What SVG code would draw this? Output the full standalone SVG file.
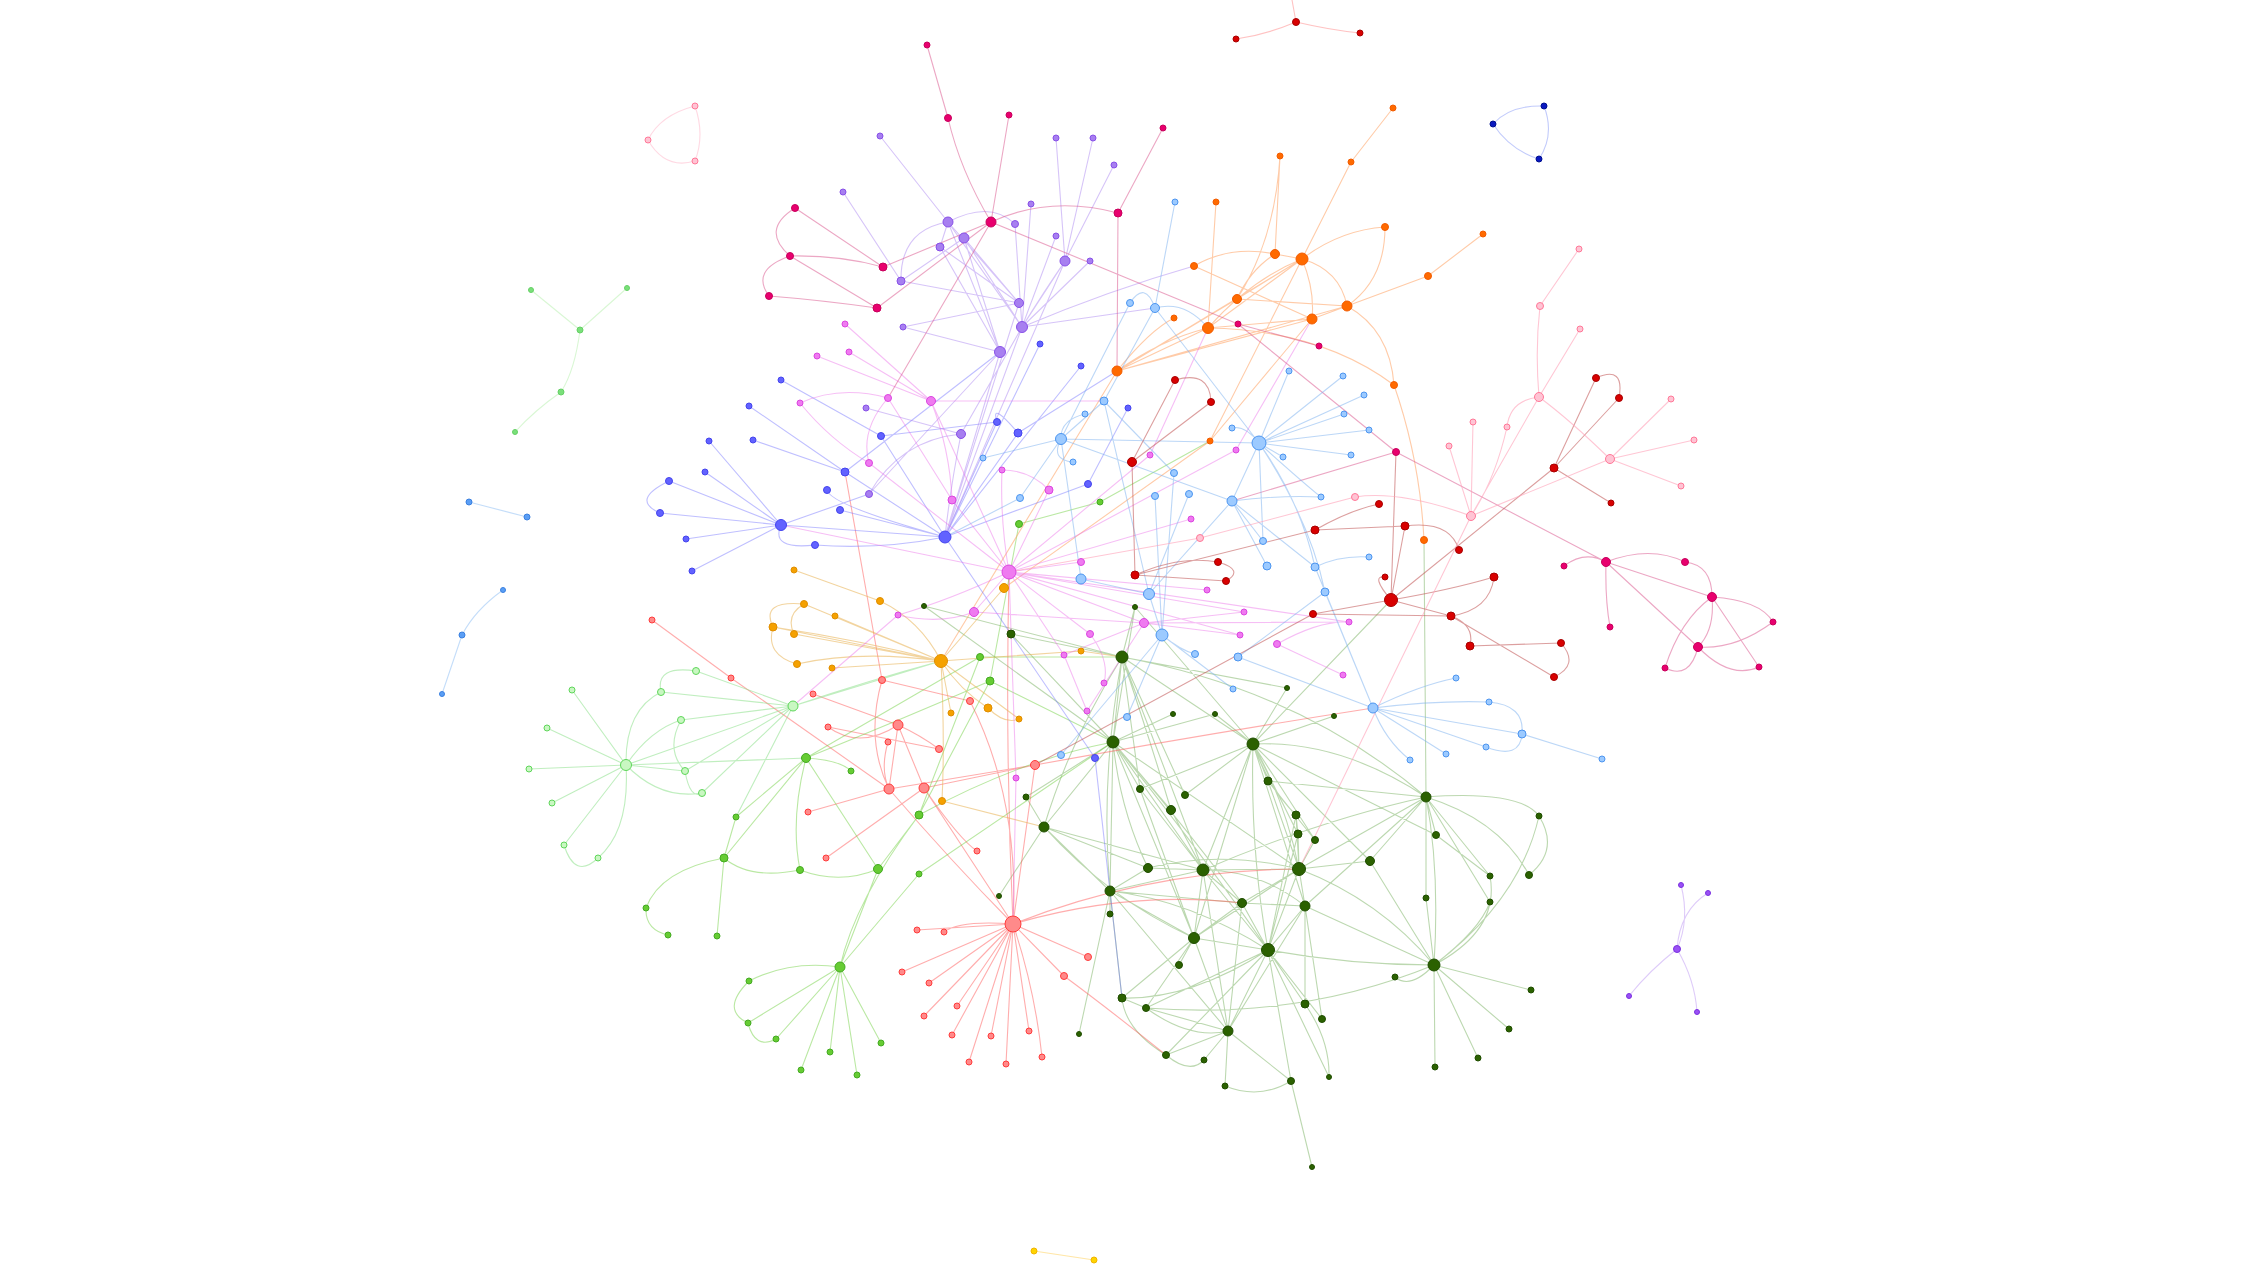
<svg xmlns="http://www.w3.org/2000/svg" width="2266" height="1266" viewBox="0 0 2266 1266">
<style>
.e path{fill:none;stroke-width:1.1}
.edg path{stroke:#6aa84f;stroke-opacity:.45}
.erd path{stroke:#ff5c5c;stroke-opacity:.5}
.elm path{stroke:#66cc33;stroke-opacity:.45}
.elg path{stroke:#8de08a;stroke-opacity:.55}
.eam path{stroke:#e8b050;stroke-opacity:.55}
.eor path{stroke:#ffa060;stroke-opacity:.55}
.ebv path{stroke:#7070ff;stroke-opacity:.45}
.epu path{stroke:#a57df0;stroke-opacity:.45}
.emg path{stroke:#ea6ee8;stroke-opacity:.45}
.ecr path{stroke:#d9508a;stroke-opacity:.5}
.elb path{stroke:#7ab0f0;stroke-opacity:.5}
.edr path{stroke:#c05050;stroke-opacity:.55}
.epk path{stroke:#ffa0b8;stroke-opacity:.6}
.epl path{stroke:#ffc0d0;stroke-opacity:.6}
.edb path{stroke:#9aa8f8;stroke-opacity:.6}
.egs path{stroke:#bff2b8;stroke-opacity:.6}
.ebs path{stroke:#9cc6f5;stroke-opacity:.6}
.eyl path{stroke:#ffdc80;stroke-opacity:.7}
.evp path{stroke:#c8a8f5;stroke-opacity:.6}
.etr path{stroke:#ff9a9a;stroke-opacity:.6}
circle{stroke-width:1}
.ndg{fill:#2b6100;stroke:#1f4d00}
.nrd{fill:#ff8a8a;stroke:#ff3b3b}
.nlm{fill:#66cc33;stroke:#44aa22}
.nlg{fill:#c9f7c2;stroke:#5fd65a}
.nam{fill:#f5a100;stroke:#e08e00}
.nbv{fill:#6262ff;stroke:#4444ee}
.npu{fill:#a77ff0;stroke:#8850e8}
.nmg{fill:#ef7af0;stroke:#db45e0}
.ncr{fill:#e8006e;stroke:#c8005c}
.nor{fill:#ff6a00;stroke:#f25c00}
.nlb{fill:#9ccaff;stroke:#4c95f0}
.ndr{fill:#d80000;stroke:#a80000}
.npk{fill:#ffc4d4;stroke:#ff7898}
.ndb{fill:#0a18c0;stroke:#001090}
.nyl{fill:#ffd400;stroke:#f0b400}
.nvp{fill:#9a50f5;stroke:#7a30e0}
.ngs{fill:#7ae07a;stroke:#66d066}
.nbs{fill:#5a9ef5;stroke:#3a80e0}
</style>
<rect width="2266" height="1266" fill="#ffffff"/>
<g id="connectors" class="e">
<g class="edg"><path d="M1122 657L1011 634M1122 657L1113 742M1122 657L1253 744M1122 657Q1070 740 1044 827M1122 657L1140 789M1122 657L1185 795M1122 657Q1150 740 1171 810M1122 657Q1100 780 1110 891M1122 657L1135 607M1122 657L1203 870M1122 657L1287 688M1122 657Q1300 690 1426 797M1122 657L924 606M1113 742L1173 714M1113 742L1215 714M1113 742L1044 827M1113 742L1140 789M1113 742Q1120 810 1148 868M1113 742L1110 891M1113 742L1203 870M1113 742L1171 810M1113 742L1026 797M1113 742Q1180 820 1242 903M1113 742L1194 938M1113 742Q1200 850 1268 950M1113 742L1299 869M1113 742L924 606M1113 742L1135 607M1253 744L1287 688M1253 744L1334 716M1253 744L1268 781M1253 744Q1270 790 1296 815M1253 744L1298 834M1253 744L1315 840M1253 744Q1285 800 1299 869M1253 744L1305 906M1253 744L1203 870M1253 744L1185 795M1253 744L1140 789M1253 744Q1340 740 1426 797M1253 744L1436 835M1253 744L1370 861M1253 744Q1250 850 1268 950M1253 744L1194 938M1253 744L1215 714M1253 744L1135 607M1253 744L1391 600M1203 870L1148 868M1203 870L1242 903M1203 870L1194 938M1203 870L1171 810M1203 870L1140 789M1203 870L1268 950M1203 870L1110 891M1203 870L1299 869M1203 870Q1260 870 1305 906M1203 870L1228 1031M1203 870L1044 827M1299 869L1296 815M1299 869L1298 834M1299 869L1315 840M1299 869L1305 906M1299 869L1370 861M1299 869L1242 903M1299 869L1268 950M1299 869L1194 938M1299 869L1426 797M1299 869Q1380 900 1434 965M1299 869L1268 781M1299 869Q1220 850 1148 868M1194 938L1179 965M1194 938L1110 891M1194 938L1268 950M1194 938L1242 903M1194 938L1146 1008M1194 938L1122 998M1194 938L1228 1031M1194 938Q1110 900 1044 827M1194 938L1140 789M1268 950L1228 1031M1268 950L1242 903M1268 950L1305 906M1268 950L1305 1004M1268 950L1322 1019M1268 950L1329 1077M1268 950Q1350 965 1434 965M1268 950Q1190 900 1110 891M1268 950L1291 1081M1268 950L1166 1055M1268 950L1146 1008M1268 950Q1190 1000 1122 998M1268 950L1296 815M1268 950L1298 834M1434 965L1531 990M1434 965L1509 1029M1434 965L1478 1058M1434 965L1435 1067M1434 965L1426 898M1434 965Q1480 930 1490 902M1434 965Q1410 990 1395 977M1434 965Q1300 1020 1146 1008M1434 965L1370 861M1434 965Q1440 870 1426 797M1434 965Q1500 930 1490 876M1434 965Q1520 900 1539 816M1434 965L1305 906M1426 797L1436 835M1426 797L1370 861M1426 797L1490 876M1426 797L1490 902M1426 797Q1520 790 1539 816M1426 797Q1500 820 1529 875M1426 797L1305 906M1426 797L1426 898M1426 797L1268 781M1426 797Q1320 820 1203 870M1426 797L1424 540M1044 827L999 896M1044 827L1110 891M1044 827L1026 797M1044 827L1148 868M1110 891L1110 914M1110 891L1148 868M1110 891L1122 998M1110 891L1228 1031M1110 891L1242 903M1110 891L1079 1034M1228 1031L1204 1060M1228 1031L1225 1086M1228 1031L1166 1055M1228 1031L1146 1008M1228 1031L1291 1081M1228 1031L1242 903M1228 1031L1305 906M1291 1081L1312 1167M1291 1081Q1260 1100 1225 1086M1122 998Q1125 1030 1166 1055M1122 998L1146 1008M1166 1055Q1190 1075 1204 1060M1242 903L1305 906M1305 906L1322 1019M1305 906L1305 1004M1296 815L1298 834M1268 781L1315 840M1539 816Q1560 850 1529 875M1436 835L1490 876M1305 1004Q1330 1040 1329 1077M1146 1008Q1190 1040 1228 1031M999 896L1044 827M1011 634L1113 742"/></g>
<g class="erd"><path d="M652 620L731 678M731 678L889 789M889 789Q950 860 1013 924M924 788L1013 924M898 725L924 788M898 725L889 789M813 694L898 725M828 727Q860 750 898 725M828 727L939 749M898 725Q920 735 939 749M882 680L970 701M882 680Q865 740 889 789M888 742Q880 770 889 789M889 789L808 812M889 789L1035 765M924 788L1035 765M924 788L826 858M924 788Q960 840 977 851M1035 765L1013 924M1035 765Q1200 735 1373 708M1013 924L917 930M1013 924Q960 920 944 932M1013 924L902 972M1013 924L929 983M1013 924L924 1016M1013 924L957 1006M1013 924L952 1035M1013 924L991 1036M1013 924L969 1062M1013 924L1006 1064M1013 924L1029 1031M1013 924Q1035 990 1042 1057M1013 924L1088 957M1013 924L1064 976M1064 976Q1110 1010 1166 1055M1013 924Q1130 890 1242 903M1013 924Q1150 870 1299 869M1013 924Q1005 750 1009 572M1013 924Q1020 800 970 701M882 680L845 472"/></g>
<g class="elm"><path d="M806 758L736 817M806 758L724 858M806 758Q840 760 851 771M806 758Q790 820 800 870M806 758L878 869M806 758L980 657M806 758Q900 720 990 681M736 817L724 858M724 858Q750 880 800 870M800 870Q840 885 878 869M878 869L919 815M878 869L840 967M919 815L980 657M919 815L990 681M919 815Q1020 760 1113 742M724 858Q660 870 646 908M646 908Q645 930 668 935M724 858L717 936M840 967Q790 960 749 981M840 967L748 1023M840 967L776 1039M840 967L830 1052M840 967L801 1070M840 967L857 1075M840 967L881 1043M749 981Q720 1010 748 1023M748 1023Q755 1050 776 1039M840 967Q855 900 919 815M919 874L1113 742M919 874L840 967M980 657L1122 657M990 681L1113 742M1100 502L1019 524M1019 524L990 681M1210 441L1100 502"/></g>
<g class="elg"><path d="M626 765L572 690M626 765L547 728M626 765L529 769M626 765L552 803M626 765L564 845M626 765Q630 830 598 858M626 765Q625 710 661 692M626 765Q650 730 681 720M626 765L685 771M626 765Q660 800 702 793M626 765L793 706M626 765L806 758M564 845Q575 880 598 858M661 692Q655 665 696 671M681 720Q665 750 685 771M685 771Q690 800 702 793M793 706L696 671M793 706L661 692M793 706L681 720M793 706L685 771M793 706L702 793M793 706L941 661M793 706Q870 680 941 661M793 706L736 817"/></g>
<g class="eam"><path d="M941 661L804 604M941 661L835 616M941 661L773 627M941 661Q860 640 773 627M941 661L794 634M941 661Q860 650 797 664M941 661L832 668M941 661Q920 620 880 601M794 570L880 601M804 604Q785 615 794 634M773 627Q760 600 804 604M773 627Q765 655 797 664M941 661L951 713M941 661Q945 740 942 801M941 661Q960 690 988 708M941 661L1019 719M941 661L1081 651M941 661L1004 588M988 708Q1005 725 1019 719M942 801L1044 827M1081 651L1122 657"/></g>
<g class="eor"><path d="M1393 108L1351 162M1351 162L1302 259M1280 156L1275 254M1280 156Q1275 240 1237 299M1275 254L1302 259M1275 254Q1230 245 1194 266M1275 254Q1250 270 1237 299M1216 202L1208 328M1385 227Q1340 230 1302 259M1385 227Q1385 280 1347 306M1483 234L1428 276M1428 276L1347 306M1302 259Q1340 270 1347 306M1302 259L1237 299M1302 259L1208 328M1302 259Q1250 280 1208 328M1302 259Q1315 290 1312 319M1194 266L1312 319M1237 299L1347 306M1312 319L1347 306M1208 328L1312 319M1208 328L1117 371M1208 328Q1160 340 1117 371M1312 319L1117 371M1347 306L1117 371M1302 259L1117 371M1237 299L1117 371M1347 306Q1390 330 1394 385M1394 385Q1420 460 1424 540M1117 371L941 661M1117 371Q1150 330 1174 318M1210 441L1302 259M1208 328Q1320 330 1394 385M1004 588L1210 441M1210 441L1312 319"/></g>
<g class="ebv"><path d="M781 525L669 481M781 525L660 513M781 525L686 539M781 525L692 571M781 525L709 441M781 525L705 472M669 481Q630 500 660 513M781 525Q770 550 815 545M781 525L945 537M781 525L869 494M749 406L845 472M753 440L845 472M781 380L881 436M845 472L945 537M881 436L945 537M827 490Q830 505 945 537M840 510L945 537M815 545Q880 550 945 537M845 472L1000 352M881 436L997 422M945 537L997 422M945 537L1018 433M945 537L1040 344M945 537L1081 366M945 537L1088 484M945 537L1095 758M1095 758L1122 998M997 422Q990 400 1018 433M1018 433L1117 371M1128 408L1088 484"/></g>
<g class="epu"><path d="M880 136L948 222M843 192L901 281M948 222L940 247M948 222Q900 230 901 281M948 222Q990 200 1015 224M948 222L1019 303M948 222L1022 327M964 238L1019 303M964 238L1022 327M940 247L1019 303M901 281L1019 303M948 222L1000 352M964 238L1000 352M940 247L1000 352M1015 224L1022 327M1031 204L1022 327M1056 138L1065 261M1093 138L1065 261M1114 165L1065 261M1056 236L1022 327M1090 261L1022 327M1065 261L1022 327M1065 261Q1045 290 1022 327M903 327L1000 352M903 327L1019 303M866 408L961 434M869 494Q900 440 961 434M961 434L1022 327M961 434Q950 490 945 537M1019 303L945 537M1022 327L945 537M1000 352L945 537M1065 261L945 537M1022 327Q1110 290 1194 266M1022 327L1155 308M901 281L964 238M1000 352L869 494"/></g>
<g class="emg"><path d="M845 324L931 401M817 356L931 401M849 352L931 401M800 403Q840 385 888 398M800 403Q830 440 869 463M888 398L952 500M931 401Q950 450 952 500M888 398Q860 430 869 463M869 463L1009 572M952 500L1009 572M931 401L1009 572M931 401L1104 401M1009 572L974 612M1009 572Q950 600 898 615M974 612Q940 625 898 615M1009 572Q1000 520 1002 470M1002 470Q1030 470 1049 490M1049 490L1009 572M1009 572L1081 562M1009 572L1144 623M1009 572L1090 634M1009 572L1191 519M1009 572L1207 590M1009 572L1244 612M1009 572L1349 622M1009 572L1150 455M1150 455L1208 328M1009 572L1064 655M1009 572L1016 778M1016 778L1013 924M1009 572L781 525M1009 572L1236 450M1236 450L1312 319M974 612L1144 623M1144 623L1244 612M1144 623L1349 622M1064 655L1144 623M1090 634Q1110 660 1104 683M1087 711L1064 655M1144 623L1087 711M1277 644L1343 675M1277 644Q1320 620 1349 622M1240 635L1144 623M793 706L898 615M1009 572L1240 635"/></g>
<g class="ecr"><path d="M927 45L948 118M948 118Q960 170 991 222M1009 115L991 222M1163 128L1118 213M1118 213L1117 371M991 222Q1050 195 1118 213M991 222L883 267M991 222L877 308M991 222L888 398M991 222L1238 324M1238 324L1396 452M1396 452L1606 562M1238 324L1319 346M795 208Q760 230 790 256M795 208L883 267M790 256Q840 255 883 267M790 256L877 308M769 296Q750 270 790 256M769 296Q820 300 877 308M1396 452L1232 501M1606 562Q1585 550 1564 566M1606 562Q1605 600 1610 627M1606 562Q1650 545 1685 562M1606 562L1712 597M1606 562L1698 647M1685 562Q1712 565 1712 597M1712 597Q1760 600 1773 622M1712 597Q1715 630 1698 647M1712 597L1759 667M1698 647Q1735 650 1773 622M1698 647Q1690 680 1665 668M1712 597Q1680 620 1665 668M1698 647Q1730 680 1759 667"/></g>
<g class="elb"><path d="M1175 202L1155 308M1130 303Q1145 280 1155 308M1155 308L1104 401M1130 303L1061 439M1155 308L1259 443M1155 308Q1185 300 1208 328M1104 401L1061 439M1104 401L1174 473M1104 401L1149 594M1085 414Q1060 420 1061 439M1061 439Q1050 460 1073 462M1061 439L1259 443M1061 439L1232 501M1061 439L983 458M1061 439L1020 498M1061 439L1081 579M1259 443L1289 371M1259 443L1343 376M1259 443L1364 395M1259 443L1344 414M1259 443L1369 430M1259 443L1351 455M1259 443Q1245 425 1232 428M1259 443L1283 457M1259 443Q1300 480 1321 497M1259 443L1232 501M1259 443L1263 541M1259 443Q1300 500 1315 567M1259 443Q1310 520 1325 592M1232 501Q1280 495 1321 497M1232 501L1263 541M1232 501L1149 594M1232 501L1315 567M1232 501L1267 566M1174 473L1162 635M1155 496L1162 635M1189 494L1149 594M1315 567Q1340 555 1369 557M1325 592L1373 708M1315 567L1373 708M1081 579L1149 594M1149 594L1162 635M1162 635Q1180 650 1195 654M1162 635L1127 717M1162 635L1061 755M1162 635L1233 689M1238 657L1373 708M1238 657L1325 592M1373 708Q1420 685 1456 678M1373 708Q1440 700 1489 702M1373 708L1522 734M1373 708L1486 747M1373 708L1446 754M1373 708Q1385 740 1410 760M1522 734L1602 759M1489 702Q1525 705 1522 734M1522 734Q1520 760 1486 747M1020 498L945 537"/></g>
<g class="edr"><path d="M1175 380Q1210 370 1211 402M1211 402L1132 462M1175 380L1132 462M1132 462L1135 575M1135 575Q1180 555 1218 562M1135 575L1226 581M1218 562Q1245 570 1226 581M1315 530Q1350 510 1379 504M1315 530L1405 526M1405 526Q1450 520 1459 550M1315 530L1135 575M1391 600Q1370 575 1385 577M1391 600Q1450 590 1494 577M1391 600L1313 614M1391 600L1451 616M1391 600L1405 526M1391 600L1554 468M1396 452L1391 600M1494 577Q1490 610 1451 616M1313 614L1451 616M1451 616Q1475 625 1470 646M1470 646L1561 643M1561 643Q1580 665 1554 677M1451 616L1554 677M1596 378Q1625 365 1619 398M1596 378L1554 468M1619 398L1554 468M1554 468L1611 503M1313 614L1035 765"/></g>
<g class="epk"><path d="M1579 249L1540 306M1540 306Q1535 350 1539 397M1580 329L1539 397M1539 397Q1510 400 1507 427M1539 397Q1570 420 1610 459M1539 397L1471 516M1507 427Q1495 480 1471 516M1610 459L1671 399M1610 459L1694 440M1610 459L1681 486M1610 459L1471 516M1473 422L1471 516M1449 446L1471 516M1471 516Q1400 490 1355 497M1355 497L1200 538M1200 538L1009 572M1471 516L1299 869"/></g>
<g class="epl"><path d="M695 106Q660 115 648 140M648 140Q665 170 695 161M695 106Q705 135 695 161"/></g>
<g class="etr"><path d="M1296 22Q1265 35 1236 39M1296 22Q1330 30 1360 33M1296 22L1292 0"/></g>
<g class="edb"><path d="M1493 124Q1510 105 1544 106M1544 106Q1555 135 1539 159M1493 124Q1510 150 1539 159"/></g>
<g class="egs"><path d="M531 290L580 330M627 288L580 330M580 330Q575 370 561 392M561 392Q535 410 515 432"/></g>
<g class="ebs"><path d="M469 502L527 517M503 590Q475 610 462 635M462 635L442 694"/></g>
<g class="eyl"><path d="M1034 1251L1094 1260"/></g>
<g class="evp"><path d="M1677 949Q1690 920 1681 885M1677 949Q1680 910 1708 893M1677 949Q1650 970 1629 996M1677 949Q1695 980 1697 1012"/></g>
</g>
<g id="nodes">
<g id="dg1" class="ndg"><circle cx="1122" cy="657" r="6"/></g>
<g id="dg2" class="ndg"><circle cx="1113" cy="742" r="6"/></g>
<g id="dg3" class="ndg"><circle cx="1253" cy="744" r="6"/></g>
<g id="dg4" class="ndg"><circle cx="1203" cy="870" r="6"/></g>
<g id="dg5" class="ndg"><circle cx="1299" cy="869" r="6.5"/></g>
<g id="dg6" class="ndg"><circle cx="1194" cy="938" r="5.5"/></g>
<g id="dg7" class="ndg"><circle cx="1268" cy="950" r="6.5"/></g>
<g id="dg8" class="ndg"><circle cx="1434" cy="965" r="6"/></g>
<g id="dg9" class="ndg"><circle cx="1426" cy="797" r="5"/></g>
<g id="dg10" class="ndg"><circle cx="1044" cy="827" r="5"/></g>
<g id="dg11" class="ndg"><circle cx="1110" cy="891" r="5"/></g>
<g id="dg12" class="ndg"><circle cx="1228" cy="1031" r="5"/></g>
<g id="dg13" class="ndg"><circle cx="1148" cy="868" r="4.5"/></g>
<g id="dg14" class="ndg"><circle cx="1305" cy="906" r="5"/></g>
<g id="dg15" class="ndg"><circle cx="1242" cy="903" r="4.5"/></g>
<g id="dg16" class="ndg"><circle cx="1370" cy="861" r="4.5"/></g>
<g id="dg17" class="ndg"><circle cx="1011" cy="634" r="4"/></g>
<g id="dg18" class="ndg"><circle cx="1140" cy="789" r="3.5"/></g>
<g id="dg19" class="ndg"><circle cx="1171" cy="810" r="4.5"/></g>
<g id="dg20" class="ndg"><circle cx="1185" cy="795" r="3.5"/></g>
<g id="dg21" class="ndg"><circle cx="1026" cy="797" r="3"/></g>
<g id="dg22" class="ndg"><circle cx="1110" cy="914" r="3"/></g>
<g id="dg23" class="ndg"><circle cx="999" cy="896" r="2.5"/></g>
<g id="dg24" class="ndg"><circle cx="1268" cy="781" r="4"/></g>
<g id="dg25" class="ndg"><circle cx="1296" cy="815" r="4"/></g>
<g id="dg26" class="ndg"><circle cx="1298" cy="834" r="4"/></g>
<g id="dg27" class="ndg"><circle cx="1315" cy="840" r="3.5"/></g>
<g id="dg28" class="ndg"><circle cx="1436" cy="835" r="3.5"/></g>
<g id="dg29" class="ndg"><circle cx="1490" cy="876" r="3"/></g>
<g id="dg30" class="ndg"><circle cx="1426" cy="898" r="3"/></g>
<g id="dg31" class="ndg"><circle cx="1490" cy="902" r="3"/></g>
<g id="dg32" class="ndg"><circle cx="1173" cy="714" r="2.5"/></g>
<g id="dg33" class="ndg"><circle cx="1215" cy="714" r="2.5"/></g>
<g id="dg34" class="ndg"><circle cx="1287" cy="688" r="2.5"/></g>
<g id="dg35" class="ndg"><circle cx="1334" cy="716" r="2.5"/></g>
<g id="dg36" class="ndg"><circle cx="1135" cy="607" r="2.5"/></g>
<g id="dg37" class="ndg"><circle cx="924" cy="606" r="2.5"/></g>
<g id="dg38" class="ndg"><circle cx="1539" cy="816" r="3"/></g>
<g id="dg39" class="ndg"><circle cx="1529" cy="875" r="3.5"/></g>
<g id="dg40" class="ndg"><circle cx="1531" cy="990" r="3"/></g>
<g id="dg41" class="ndg"><circle cx="1509" cy="1029" r="3"/></g>
<g id="dg42" class="ndg"><circle cx="1478" cy="1058" r="3"/></g>
<g id="dg43" class="ndg"><circle cx="1435" cy="1067" r="3"/></g>
<g id="dg44" class="ndg"><circle cx="1395" cy="977" r="3"/></g>
<g id="dg45" class="ndg"><circle cx="1179" cy="965" r="3.5"/></g>
<g id="dg46" class="ndg"><circle cx="1122" cy="998" r="4"/></g>
<g id="dg47" class="ndg"><circle cx="1146" cy="1008" r="3.5"/></g>
<g id="dg48" class="ndg"><circle cx="1166" cy="1055" r="3.5"/></g>
<g id="dg49" class="ndg"><circle cx="1204" cy="1060" r="3"/></g>
<g id="dg50" class="ndg"><circle cx="1225" cy="1086" r="3"/></g>
<g id="dg51" class="ndg"><circle cx="1291" cy="1081" r="3.5"/></g>
<g id="dg52" class="ndg"><circle cx="1305" cy="1004" r="4"/></g>
<g id="dg53" class="ndg"><circle cx="1322" cy="1019" r="3.5"/></g>
<g id="dg54" class="ndg"><circle cx="1329" cy="1077" r="2.5"/></g>
<g id="dg55" class="ndg"><circle cx="1312" cy="1167" r="2.5"/></g>
<g id="dg56" class="ndg"><circle cx="1079" cy="1034" r="2.5"/></g>
<g id="rd1" class="nrd"><circle cx="1013" cy="924" r="8"/></g>
<g id="rd2" class="nrd"><circle cx="652" cy="620" r="3"/></g>
<g id="rd3" class="nrd"><circle cx="731" cy="678" r="3"/></g>
<g id="rd4" class="nrd"><circle cx="813" cy="694" r="3"/></g>
<g id="rd5" class="nrd"><circle cx="828" cy="727" r="3"/></g>
<g id="rd6" class="nrd"><circle cx="882" cy="680" r="3.5"/></g>
<g id="rd7" class="nrd"><circle cx="898" cy="725" r="5"/></g>
<g id="rd8" class="nrd"><circle cx="888" cy="742" r="3"/></g>
<g id="rd9" class="nrd"><circle cx="939" cy="749" r="3.5"/></g>
<g id="rd10" class="nrd"><circle cx="970" cy="701" r="3.5"/></g>
<g id="rd11" class="nrd"><circle cx="889" cy="789" r="5"/></g>
<g id="rd12" class="nrd"><circle cx="924" cy="788" r="5"/></g>
<g id="rd13" class="nrd"><circle cx="808" cy="812" r="3"/></g>
<g id="rd14" class="nrd"><circle cx="826" cy="858" r="3"/></g>
<g id="rd15" class="nrd"><circle cx="977" cy="851" r="3"/></g>
<g id="rd16" class="nrd"><circle cx="1035" cy="765" r="4.5"/></g>
<g id="rd17" class="nrd"><circle cx="917" cy="930" r="3"/></g>
<g id="rd18" class="nrd"><circle cx="944" cy="932" r="3"/></g>
<g id="rd19" class="nrd"><circle cx="902" cy="972" r="3"/></g>
<g id="rd20" class="nrd"><circle cx="929" cy="983" r="3"/></g>
<g id="rd21" class="nrd"><circle cx="924" cy="1016" r="3"/></g>
<g id="rd22" class="nrd"><circle cx="957" cy="1006" r="3"/></g>
<g id="rd23" class="nrd"><circle cx="952" cy="1035" r="3"/></g>
<g id="rd24" class="nrd"><circle cx="991" cy="1036" r="3"/></g>
<g id="rd25" class="nrd"><circle cx="969" cy="1062" r="3"/></g>
<g id="rd26" class="nrd"><circle cx="1006" cy="1064" r="3"/></g>
<g id="rd27" class="nrd"><circle cx="1029" cy="1031" r="3"/></g>
<g id="rd28" class="nrd"><circle cx="1042" cy="1057" r="3"/></g>
<g id="rd29" class="nrd"><circle cx="1088" cy="957" r="3.5"/></g>
<g id="rd30" class="nrd"><circle cx="1064" cy="976" r="3.5"/></g>
<g id="lm1" class="nlm"><circle cx="806" cy="758" r="4.5"/></g>
<g id="lm2" class="nlm"><circle cx="851" cy="771" r="3"/></g>
<g id="lm3" class="nlm"><circle cx="736" cy="817" r="3"/></g>
<g id="lm4" class="nlm"><circle cx="724" cy="858" r="4"/></g>
<g id="lm5" class="nlm"><circle cx="800" cy="870" r="3.5"/></g>
<g id="lm6" class="nlm"><circle cx="878" cy="869" r="4.5"/></g>
<g id="lm7" class="nlm"><circle cx="919" cy="815" r="4"/></g>
<g id="lm8" class="nlm"><circle cx="919" cy="874" r="3"/></g>
<g id="lm9" class="nlm"><circle cx="646" cy="908" r="3"/></g>
<g id="lm10" class="nlm"><circle cx="668" cy="935" r="3"/></g>
<g id="lm11" class="nlm"><circle cx="717" cy="936" r="3"/></g>
<g id="lm12" class="nlm"><circle cx="840" cy="967" r="5"/></g>
<g id="lm13" class="nlm"><circle cx="749" cy="981" r="3"/></g>
<g id="lm14" class="nlm"><circle cx="748" cy="1023" r="3"/></g>
<g id="lm15" class="nlm"><circle cx="776" cy="1039" r="3"/></g>
<g id="lm16" class="nlm"><circle cx="830" cy="1052" r="3"/></g>
<g id="lm17" class="nlm"><circle cx="801" cy="1070" r="3"/></g>
<g id="lm18" class="nlm"><circle cx="857" cy="1075" r="3"/></g>
<g id="lm19" class="nlm"><circle cx="881" cy="1043" r="3"/></g>
<g id="lm20" class="nlm"><circle cx="980" cy="657" r="3.5"/></g>
<g id="lm21" class="nlm"><circle cx="990" cy="681" r="4"/></g>
<g id="lm22" class="nlm"><circle cx="1100" cy="502" r="3"/></g>
<g id="lm23" class="nlm"><circle cx="1019" cy="524" r="3.5"/></g>
<g id="lg1" class="nlg"><circle cx="626" cy="765" r="5.5"/></g>
<g id="lg2" class="nlg"><circle cx="793" cy="706" r="5"/></g>
<g id="lg3" class="nlg"><circle cx="572" cy="690" r="3"/></g>
<g id="lg4" class="nlg"><circle cx="547" cy="728" r="3"/></g>
<g id="lg5" class="nlg"><circle cx="529" cy="769" r="3"/></g>
<g id="lg6" class="nlg"><circle cx="552" cy="803" r="3"/></g>
<g id="lg7" class="nlg"><circle cx="564" cy="845" r="3"/></g>
<g id="lg8" class="nlg"><circle cx="598" cy="858" r="3"/></g>
<g id="lg9" class="nlg"><circle cx="661" cy="692" r="3.5"/></g>
<g id="lg10" class="nlg"><circle cx="696" cy="671" r="3.5"/></g>
<g id="lg11" class="nlg"><circle cx="681" cy="720" r="3.5"/></g>
<g id="lg12" class="nlg"><circle cx="685" cy="771" r="3.5"/></g>
<g id="lg13" class="nlg"><circle cx="702" cy="793" r="3.5"/></g>
<g id="am1" class="nam"><circle cx="941" cy="661" r="6.5"/></g>
<g id="am2" class="nam"><circle cx="804" cy="604" r="3.5"/></g>
<g id="am3" class="nam"><circle cx="835" cy="616" r="3"/></g>
<g id="am4" class="nam"><circle cx="773" cy="627" r="4"/></g>
<g id="am5" class="nam"><circle cx="794" cy="634" r="3.5"/></g>
<g id="am6" class="nam"><circle cx="797" cy="664" r="3.5"/></g>
<g id="am7" class="nam"><circle cx="832" cy="668" r="3"/></g>
<g id="am8" class="nam"><circle cx="880" cy="601" r="3.5"/></g>
<g id="am9" class="nam"><circle cx="794" cy="570" r="3"/></g>
<g id="am10" class="nam"><circle cx="951" cy="713" r="3"/></g>
<g id="am11" class="nam"><circle cx="942" cy="801" r="3.5"/></g>
<g id="am12" class="nam"><circle cx="988" cy="708" r="4"/></g>
<g id="am13" class="nam"><circle cx="1019" cy="719" r="3"/></g>
<g id="am14" class="nam"><circle cx="1081" cy="651" r="3"/></g>
<g id="am15" class="nam"><circle cx="1004" cy="588" r="4.5"/></g>
<g id="bv1" class="nbv"><circle cx="781" cy="525" r="5.5"/></g>
<g id="bv2" class="nbv"><circle cx="945" cy="537" r="6"/></g>
<g id="bv3" class="nbv"><circle cx="781" cy="380" r="3"/></g>
<g id="bv4" class="nbv"><circle cx="749" cy="406" r="3"/></g>
<g id="bv5" class="nbv"><circle cx="709" cy="441" r="3"/></g>
<g id="bv6" class="nbv"><circle cx="753" cy="440" r="3"/></g>
<g id="bv7" class="nbv"><circle cx="705" cy="472" r="3"/></g>
<g id="bv8" class="nbv"><circle cx="669" cy="481" r="3.5"/></g>
<g id="bv9" class="nbv"><circle cx="660" cy="513" r="3.5"/></g>
<g id="bv10" class="nbv"><circle cx="686" cy="539" r="3"/></g>
<g id="bv11" class="nbv"><circle cx="692" cy="571" r="3"/></g>
<g id="bv12" class="nbv"><circle cx="815" cy="545" r="3.5"/></g>
<g id="bv13" class="nbv"><circle cx="827" cy="490" r="3.5"/></g>
<g id="bv14" class="nbv"><circle cx="840" cy="510" r="3.5"/></g>
<g id="bv15" class="nbv"><circle cx="845" cy="472" r="4"/></g>
<g id="bv16" class="nbv"><circle cx="881" cy="436" r="3.5"/></g>
<g id="bv17" class="nbv"><circle cx="1040" cy="344" r="3"/></g>
<g id="bv18" class="nbv"><circle cx="1081" cy="366" r="3"/></g>
<g id="bv19" class="nbv"><circle cx="997" cy="422" r="3.5"/></g>
<g id="bv20" class="nbv"><circle cx="1018" cy="433" r="4"/></g>
<g id="bv21" class="nbv"><circle cx="1128" cy="408" r="3"/></g>
<g id="bv22" class="nbv"><circle cx="1088" cy="484" r="3.5"/></g>
<g id="bv23" class="nbv"><circle cx="1095" cy="758" r="3.5"/></g>
<g id="pu1" class="npu"><circle cx="948" cy="222" r="5"/></g>
<g id="pu2" class="npu"><circle cx="964" cy="238" r="5"/></g>
<g id="pu3" class="npu"><circle cx="940" cy="247" r="4"/></g>
<g id="pu4" class="npu"><circle cx="880" cy="136" r="3"/></g>
<g id="pu5" class="npu"><circle cx="843" cy="192" r="3"/></g>
<g id="pu6" class="npu"><circle cx="901" cy="281" r="4"/></g>
<g id="pu7" class="npu"><circle cx="1015" cy="224" r="3.5"/></g>
<g id="pu8" class="npu"><circle cx="1031" cy="204" r="3"/></g>
<g id="pu9" class="npu"><circle cx="1056" cy="138" r="3"/></g>
<g id="pu10" class="npu"><circle cx="1093" cy="138" r="3"/></g>
<g id="pu11" class="npu"><circle cx="1114" cy="165" r="3"/></g>
<g id="pu12" class="npu"><circle cx="1056" cy="236" r="3"/></g>
<g id="pu13" class="npu"><circle cx="1065" cy="261" r="5"/></g>
<g id="pu14" class="npu"><circle cx="1090" cy="261" r="3"/></g>
<g id="pu15" class="npu"><circle cx="1019" cy="303" r="4.5"/></g>
<g id="pu16" class="npu"><circle cx="1022" cy="327" r="5.5"/></g>
<g id="pu17" class="npu"><circle cx="903" cy="327" r="3"/></g>
<g id="pu18" class="npu"><circle cx="866" cy="408" r="3"/></g>
<g id="pu19" class="npu"><circle cx="961" cy="434" r="4.5"/></g>
<g id="pu20" class="npu"><circle cx="869" cy="494" r="3.5"/></g>
<g id="pu21" class="npu"><circle cx="1000" cy="352" r="5.5"/></g>
<g id="mg1" class="nmg"><circle cx="1009" cy="572" r="7"/></g>
<g id="mg2" class="nmg"><circle cx="931" cy="401" r="4.5"/></g>
<g id="mg3" class="nmg"><circle cx="845" cy="324" r="3"/></g>
<g id="mg4" class="nmg"><circle cx="817" cy="356" r="3"/></g>
<g id="mg5" class="nmg"><circle cx="849" cy="352" r="3"/></g>
<g id="mg6" class="nmg"><circle cx="888" cy="398" r="3.5"/></g>
<g id="mg7" class="nmg"><circle cx="800" cy="403" r="3"/></g>
<g id="mg8" class="nmg"><circle cx="869" cy="463" r="3.5"/></g>
<g id="mg9" class="nmg"><circle cx="952" cy="500" r="4"/></g>
<g id="mg10" class="nmg"><circle cx="974" cy="612" r="4.5"/></g>
<g id="mg11" class="nmg"><circle cx="898" cy="615" r="3"/></g>
<g id="mg12" class="nmg"><circle cx="1150" cy="455" r="3"/></g>
<g id="mg13" class="nmg"><circle cx="1002" cy="470" r="3"/></g>
<g id="mg14" class="nmg"><circle cx="1049" cy="490" r="4"/></g>
<g id="mg15" class="nmg"><circle cx="1236" cy="450" r="3"/></g>
<g id="mg16" class="nmg"><circle cx="1191" cy="519" r="3"/></g>
<g id="mg17" class="nmg"><circle cx="1081" cy="562" r="3.5"/></g>
<g id="mg18" class="nmg"><circle cx="1207" cy="590" r="3"/></g>
<g id="mg19" class="nmg"><circle cx="1244" cy="612" r="3"/></g>
<g id="mg20" class="nmg"><circle cx="1349" cy="622" r="3"/></g>
<g id="mg21" class="nmg"><circle cx="1144" cy="623" r="4.5"/></g>
<g id="mg22" class="nmg"><circle cx="1090" cy="634" r="3.5"/></g>
<g id="mg23" class="nmg"><circle cx="1064" cy="655" r="3"/></g>
<g id="mg24" class="nmg"><circle cx="1104" cy="683" r="3"/></g>
<g id="mg25" class="nmg"><circle cx="1087" cy="711" r="3"/></g>
<g id="mg26" class="nmg"><circle cx="1016" cy="778" r="3"/></g>
<g id="mg27" class="nmg"><circle cx="1240" cy="635" r="3"/></g>
<g id="mg28" class="nmg"><circle cx="1277" cy="644" r="3.5"/></g>
<g id="mg29" class="nmg"><circle cx="1343" cy="675" r="3"/></g>
<g id="cr1" class="ncr"><circle cx="927" cy="45" r="3"/></g>
<g id="cr2" class="ncr"><circle cx="948" cy="118" r="3.5"/></g>
<g id="cr3" class="ncr"><circle cx="1009" cy="115" r="3"/></g>
<g id="cr4" class="ncr"><circle cx="991" cy="222" r="5"/></g>
<g id="cr5" class="ncr"><circle cx="1118" cy="213" r="4"/></g>
<g id="cr6" class="ncr"><circle cx="1163" cy="128" r="3"/></g>
<g id="cr7" class="ncr"><circle cx="795" cy="208" r="3.5"/></g>
<g id="cr8" class="ncr"><circle cx="790" cy="256" r="3.5"/></g>
<g id="cr9" class="ncr"><circle cx="883" cy="267" r="4"/></g>
<g id="cr10" class="ncr"><circle cx="769" cy="296" r="3.5"/></g>
<g id="cr11" class="ncr"><circle cx="877" cy="308" r="4"/></g>
<g id="cr12" class="ncr"><circle cx="1238" cy="324" r="3"/></g>
<g id="cr13" class="ncr"><circle cx="1319" cy="346" r="3"/></g>
<g id="cr14" class="ncr"><circle cx="1396" cy="452" r="3.5"/></g>
<g id="cr15" class="ncr"><circle cx="1606" cy="562" r="4.5"/></g>
<g id="cr16" class="ncr"><circle cx="1564" cy="566" r="3"/></g>
<g id="cr17" class="ncr"><circle cx="1610" cy="627" r="3"/></g>
<g id="cr18" class="ncr"><circle cx="1685" cy="562" r="3.5"/></g>
<g id="cr19" class="ncr"><circle cx="1712" cy="597" r="4.5"/></g>
<g id="cr20" class="ncr"><circle cx="1773" cy="622" r="3"/></g>
<g id="cr21" class="ncr"><circle cx="1698" cy="647" r="4.5"/></g>
<g id="cr22" class="ncr"><circle cx="1665" cy="668" r="3"/></g>
<g id="cr23" class="ncr"><circle cx="1759" cy="667" r="3"/></g>
<g id="lb1" class="nlb"><circle cx="1175" cy="202" r="3"/></g>
<g id="lb2" class="nlb"><circle cx="1130" cy="303" r="3.5"/></g>
<g id="lb3" class="nlb"><circle cx="1155" cy="308" r="4.5"/></g>
<g id="lb4" class="nlb"><circle cx="1104" cy="401" r="4"/></g>
<g id="lb5" class="nlb"><circle cx="1085" cy="414" r="3"/></g>
<g id="lb6" class="nlb"><circle cx="1061" cy="439" r="5.5"/></g>
<g id="lb7" class="nlb"><circle cx="1073" cy="462" r="3"/></g>
<g id="lb8" class="nlb"><circle cx="983" cy="458" r="3"/></g>
<g id="lb9" class="nlb"><circle cx="1020" cy="498" r="3.5"/></g>
<g id="lb10" class="nlb"><circle cx="1174" cy="473" r="3.5"/></g>
<g id="lb11" class="nlb"><circle cx="1155" cy="496" r="3.5"/></g>
<g id="lb12" class="nlb"><circle cx="1189" cy="494" r="3.5"/></g>
<g id="lb13" class="nlb"><circle cx="1232" cy="501" r="5"/></g>
<g id="lb14" class="nlb"><circle cx="1259" cy="443" r="7"/></g>
<g id="lb15" class="nlb"><circle cx="1289" cy="371" r="3"/></g>
<g id="lb16" class="nlb"><circle cx="1343" cy="376" r="3"/></g>
<g id="lb17" class="nlb"><circle cx="1364" cy="395" r="3"/></g>
<g id="lb18" class="nlb"><circle cx="1344" cy="414" r="3"/></g>
<g id="lb19" class="nlb"><circle cx="1369" cy="430" r="3"/></g>
<g id="lb20" class="nlb"><circle cx="1351" cy="455" r="3"/></g>
<g id="lb21" class="nlb"><circle cx="1232" cy="428" r="3"/></g>
<g id="lb22" class="nlb"><circle cx="1283" cy="457" r="3"/></g>
<g id="lb23" class="nlb"><circle cx="1321" cy="497" r="3"/></g>
<g id="lb24" class="nlb"><circle cx="1263" cy="541" r="3.5"/></g>
<g id="lb25" class="nlb"><circle cx="1267" cy="566" r="4"/></g>
<g id="lb26" class="nlb"><circle cx="1315" cy="567" r="4"/></g>
<g id="lb27" class="nlb"><circle cx="1369" cy="557" r="3"/></g>
<g id="lb28" class="nlb"><circle cx="1325" cy="592" r="4"/></g>
<g id="lb29" class="nlb"><circle cx="1081" cy="579" r="5"/></g>
<g id="lb30" class="nlb"><circle cx="1149" cy="594" r="5.5"/></g>
<g id="lb31" class="nlb"><circle cx="1162" cy="635" r="6"/></g>
<g id="lb32" class="nlb"><circle cx="1195" cy="654" r="3.5"/></g>
<g id="lb33" class="nlb"><circle cx="1238" cy="657" r="4"/></g>
<g id="lb34" class="nlb"><circle cx="1233" cy="689" r="3"/></g>
<g id="lb35" class="nlb"><circle cx="1127" cy="717" r="3.5"/></g>
<g id="lb36" class="nlb"><circle cx="1061" cy="755" r="3.5"/></g>
<g id="lb37" class="nlb"><circle cx="1373" cy="708" r="5"/></g>
<g id="lb38" class="nlb"><circle cx="1456" cy="678" r="3"/></g>
<g id="lb39" class="nlb"><circle cx="1489" cy="702" r="3"/></g>
<g id="lb40" class="nlb"><circle cx="1522" cy="734" r="4"/></g>
<g id="lb41" class="nlb"><circle cx="1486" cy="747" r="3"/></g>
<g id="lb42" class="nlb"><circle cx="1446" cy="754" r="3"/></g>
<g id="lb43" class="nlb"><circle cx="1410" cy="760" r="3"/></g>
<g id="lb44" class="nlb"><circle cx="1602" cy="759" r="3"/></g>
<g id="or1" class="nor"><circle cx="1393" cy="108" r="3"/></g>
<g id="or2" class="nor"><circle cx="1351" cy="162" r="3"/></g>
<g id="or3" class="nor"><circle cx="1280" cy="156" r="3"/></g>
<g id="or4" class="nor"><circle cx="1216" cy="202" r="3"/></g>
<g id="or5" class="nor"><circle cx="1385" cy="227" r="3.5"/></g>
<g id="or6" class="nor"><circle cx="1483" cy="234" r="3"/></g>
<g id="or7" class="nor"><circle cx="1428" cy="276" r="3.5"/></g>
<g id="or8" class="nor"><circle cx="1275" cy="254" r="4.5"/></g>
<g id="or9" class="nor"><circle cx="1302" cy="259" r="6"/></g>
<g id="or10" class="nor"><circle cx="1194" cy="266" r="3.5"/></g>
<g id="or11" class="nor"><circle cx="1237" cy="299" r="4.5"/></g>
<g id="or12" class="nor"><circle cx="1347" cy="306" r="5"/></g>
<g id="or13" class="nor"><circle cx="1312" cy="319" r="5"/></g>
<g id="or14" class="nor"><circle cx="1208" cy="328" r="5.5"/></g>
<g id="or15" class="nor"><circle cx="1174" cy="318" r="3"/></g>
<g id="or16" class="nor"><circle cx="1117" cy="371" r="5"/></g>
<g id="or17" class="nor"><circle cx="1210" cy="441" r="3"/></g>
<g id="or18" class="nor"><circle cx="1394" cy="385" r="3.5"/></g>
<g id="or19" class="nor"><circle cx="1424" cy="540" r="3.5"/></g>
<g id="dr1" class="ndr"><circle cx="1175" cy="380" r="3.5"/></g>
<g id="dr2" class="ndr"><circle cx="1211" cy="402" r="3.5"/></g>
<g id="dr3" class="ndr"><circle cx="1132" cy="462" r="4.5"/></g>
<g id="dr4" class="ndr"><circle cx="1315" cy="530" r="4"/></g>
<g id="dr5" class="ndr"><circle cx="1379" cy="504" r="3.5"/></g>
<g id="dr6" class="ndr"><circle cx="1405" cy="526" r="4"/></g>
<g id="dr7" class="ndr"><circle cx="1459" cy="550" r="3.5"/></g>
<g id="dr8" class="ndr"><circle cx="1135" cy="575" r="4"/></g>
<g id="dr9" class="ndr"><circle cx="1218" cy="562" r="3.5"/></g>
<g id="dr10" class="ndr"><circle cx="1226" cy="581" r="3.5"/></g>
<g id="dr11" class="ndr"><circle cx="1391" cy="600" r="6.5"/></g>
<g id="dr12" class="ndr"><circle cx="1385" cy="577" r="3"/></g>
<g id="dr13" class="ndr"><circle cx="1494" cy="577" r="4"/></g>
<g id="dr14" class="ndr"><circle cx="1313" cy="614" r="3.5"/></g>
<g id="dr15" class="ndr"><circle cx="1451" cy="616" r="4"/></g>
<g id="dr16" class="ndr"><circle cx="1470" cy="646" r="4"/></g>
<g id="dr17" class="ndr"><circle cx="1596" cy="378" r="3.5"/></g>
<g id="dr18" class="ndr"><circle cx="1619" cy="398" r="3.5"/></g>
<g id="dr19" class="ndr"><circle cx="1554" cy="468" r="4"/></g>
<g id="dr20" class="ndr"><circle cx="1611" cy="503" r="3"/></g>
<g id="dr21" class="ndr"><circle cx="1561" cy="643" r="3.5"/></g>
<g id="dr22" class="ndr"><circle cx="1554" cy="677" r="3.5"/></g>
<g id="pk1" class="npk"><circle cx="1579" cy="249" r="3"/></g>
<g id="pk2" class="npk"><circle cx="1540" cy="306" r="3.5"/></g>
<g id="pk3" class="npk"><circle cx="1580" cy="329" r="3"/></g>
<g id="pk4" class="npk"><circle cx="1539" cy="397" r="4.5"/></g>
<g id="pk5" class="npk"><circle cx="1507" cy="427" r="3"/></g>
<g id="pk6" class="npk"><circle cx="1473" cy="422" r="3"/></g>
<g id="pk7" class="npk"><circle cx="1449" cy="446" r="3"/></g>
<g id="pk8" class="npk"><circle cx="1471" cy="516" r="4.5"/></g>
<g id="pk9" class="npk"><circle cx="1610" cy="459" r="4.5"/></g>
<g id="pk10" class="npk"><circle cx="1671" cy="399" r="3"/></g>
<g id="pk11" class="npk"><circle cx="1694" cy="440" r="3"/></g>
<g id="pk12" class="npk"><circle cx="1681" cy="486" r="3"/></g>
<g id="pk13" class="npk"><circle cx="1355" cy="497" r="3.5"/></g>
<g id="pk14" class="npk"><circle cx="1200" cy="538" r="3.5"/></g>
<g id="pt1" class="npk"><circle cx="695" cy="106" r="3"/></g>
<g id="pt2" class="npk"><circle cx="648" cy="140" r="3"/></g>
<g id="pt3" class="npk"><circle cx="695" cy="161" r="3"/></g>
<g id="tr1" class="ndr"><circle cx="1296" cy="22" r="3.5"/></g>
<g id="tr2" class="ndr"><circle cx="1236" cy="39" r="3"/></g>
<g id="tr3" class="ndr"><circle cx="1360" cy="33" r="3"/></g>
<g id="db1" class="ndb"><circle cx="1493" cy="124" r="3"/></g>
<g id="db2" class="ndb"><circle cx="1544" cy="106" r="3"/></g>
<g id="db3" class="ndb"><circle cx="1539" cy="159" r="3"/></g>
<g id="gs1" class="ngs"><circle cx="531" cy="290" r="2.5"/></g>
<g id="gs2" class="ngs"><circle cx="627" cy="288" r="2.5"/></g>
<g id="gs3" class="ngs"><circle cx="580" cy="330" r="3"/></g>
<g id="gs4" class="ngs"><circle cx="561" cy="392" r="3"/></g>
<g id="gs5" class="ngs"><circle cx="515" cy="432" r="2.5"/></g>
<g id="bs1" class="nbs"><circle cx="469" cy="502" r="3"/></g>
<g id="bs2" class="nbs"><circle cx="527" cy="517" r="3"/></g>
<g id="bs3" class="nbs"><circle cx="503" cy="590" r="2.5"/></g>
<g id="bs4" class="nbs"><circle cx="462" cy="635" r="3"/></g>
<g id="bs5" class="nbs"><circle cx="442" cy="694" r="2.5"/></g>
<g id="yl1" class="nyl"><circle cx="1034" cy="1251" r="3"/></g>
<g id="yl2" class="nyl"><circle cx="1094" cy="1260" r="3"/></g>
<g id="vp1" class="nvp"><circle cx="1677" cy="949" r="3.5"/></g>
<g id="vp2" class="nvp"><circle cx="1681" cy="885" r="2.5"/></g>
<g id="vp3" class="nvp"><circle cx="1708" cy="893" r="2.5"/></g>
<g id="vp4" class="nvp"><circle cx="1629" cy="996" r="2.5"/></g>
<g id="vp5" class="nvp"><circle cx="1697" cy="1012" r="2.5"/></g>
</g>
</svg>
